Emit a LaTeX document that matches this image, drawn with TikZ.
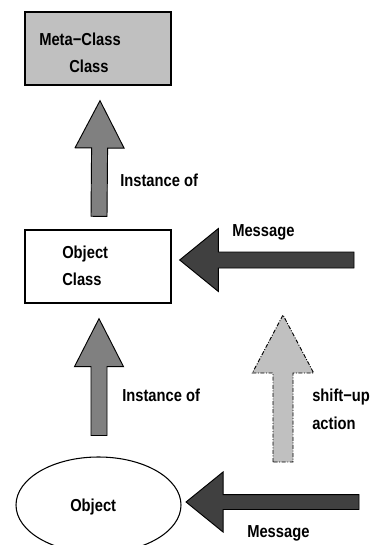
\documentclass[tikz,border=0pt]{standalone}
\usepackage{fontspec}
\setmainfont{Liberation Sans}[FakeStretch=0.85]
\usepackage{tikz}
\usetikzlibrary{calc,positioning,shapes.geometric}
\definecolor{metafill}{HTML}{C0C0C0}
\definecolor{instfill}{HTML}{808080}
\definecolor{msgfill}{HTML}{404040}
\definecolor{shiftfill}{HTML}{C0C0C0}

% fat block arrow: [style]{tail}{tip}{shaft half width}{head half width}{head length}
\newcommand{\blockarrow}[6][]{%
  \coordinate (ba-head) at ($(#3)!#6!(#2)$);
  \draw[#1] ($(#2)!#4!90:(#3)$) -- ($(ba-head)!#4!-90:(#2)$)
    -- ($(ba-head)!#5!-90:(#2)$) -- (#3) -- ($(ba-head)!#5!90:(#2)$)
    -- ($(ba-head)!#4!90:(#2)$) -- ($(#2)!#4!-90:(#3)$) -- cycle;}

\begin{document}
\begin{tikzpicture}[x=0.75pt, y=-0.75pt,
    every node/.style={font=\bfseries\fontsize{13pt}{20pt}\selectfont},
    box/.style={draw, line width=1pt, inner sep=0pt, minimum width=109.5pt, minimum height=54.75pt},
    lbl/.style={inner sep=0pt, anchor=west, align=left},
    inst/.style={draw, line width=0.7pt, fill=instfill, line join=miter},
    msg/.style={draw, line width=0.7pt, fill=msgfill, line join=miter},
    shiftup/.style={draw, line width=0.7pt, fill=shiftfill,
        dash pattern=on 3pt off 1.2pt on 0.7pt off 1.2pt}]
    \clip (0,0) rectangle (370,545);

    % the three levels
    \node[box, fill=metafill] (meta) at (98,48.5) {};
    \node[box] (objclass) at (98,266.5) {};
    \node[draw, ellipse, line width=0.8pt, inner sep=0pt, minimum width=123.75pt, minimum height=72pt] (object) at (98.5,505) {};

    % texts inside
    \node[lbl] at (39,39) {Meta−Class};
    \node[lbl] at (69,66) {Class};
    \node[lbl] at (62,265.5) {Object\\Class};
    \node[lbl] at (70,507) {Object};

    % instance-of arrows
    \coordinate (inst1 tail) at ($(objclass.north)+(1,-13)$);
    \coordinate (inst1 tip) at ($(meta.south)+(2,15)$);
    \blockarrow[inst]{inst1 tail}{inst1 tip}{6pt}{18.4pt}{35.5pt}
    \node[lbl] at (120,180) {Instance of};

    \coordinate (inst2 tail) at ($(object.north)+(0.5,-21)$);
    \coordinate (inst2 tip) at ($(objclass.south)+(1,15)$);
    \blockarrow[inst]{inst2 tail}{inst2 tip}{6pt}{18.4pt}{36pt}
    \node[lbl] at (122,395) {Instance of};

    % incoming messages
    \coordinate (msg1 tail) at (354,260);
    \coordinate (msg1 tip) at ($(objclass.east)+(8,-6.5)$);
    \blockarrow[msg]{msg1 tail}{msg1 tip}{6pt}{23.6pt}{29pt}
    \node[lbl] at (232,232) {Message};

    \coordinate (msg2 tail) at (359,502);
    \coordinate (msg2 tip) at ($(object.east)+(4.5,-3)$);
    \blockarrow[msg]{msg2 tail}{msg2 tip}{5.6pt}{22.5pt}{27.75pt}
    \node[lbl] at (247,533) {Message};

    % shift-up
    \coordinate (shift tail) at (283,462);
    \coordinate (shift tip) at (283,315);
    \blockarrow[shiftup]{shift tail}{shift tip}{7.5pt}{23pt}{43.5pt}
    \node[lbl] at (312,397) {shift−up};
    \node[lbl] at (312,423) {action};
\end{tikzpicture}
\end{document}
